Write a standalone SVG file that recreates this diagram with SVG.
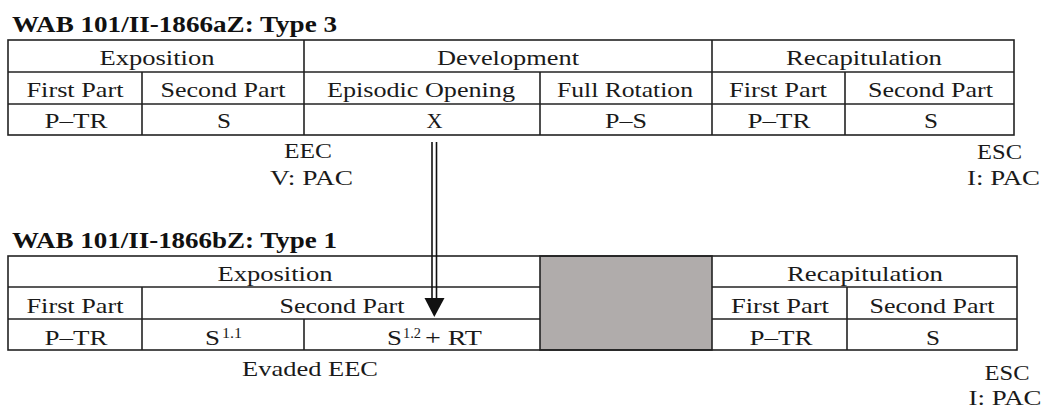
<svg xmlns="http://www.w3.org/2000/svg" width="1043" height="409" viewBox="0 0 1043 409">
<style>
  .t{font-family:"Liberation Serif",Tinos,"Times New Roman",Times,"Nimbus Roman","Noto Serif",serif;font-size:21.5px;fill:#1a1a1a;text-anchor:middle}
  .s{font-family:"Liberation Serif",Tinos,"Times New Roman",Times,"Nimbus Roman","Noto Serif",serif;font-size:14.5px;fill:#1a1a1a}
  .l{font-family:"Liberation Serif",Tinos,"Times New Roman",Times,"Nimbus Roman","Noto Serif",serif;font-size:21.5px;fill:#1a1a1a}
  .h{font-family:"Liberation Serif",Tinos,"Times New Roman",Times,"Nimbus Roman","Noto Serif",serif;font-size:23px;font-weight:bold;fill:#111}
  .b{fill:none;stroke:#222;stroke-width:1.6}
  .ln{stroke:#222;stroke-width:1.6}
  .gray{fill:#b0acab;stroke:#222;stroke-width:1.6}
  .arr{stroke:#111;stroke-width:1.6}
</style>
<rect width="1043" height="409" fill="#fff"/>

<g id="table-a">
  <text class="h" x="12" y="32" textLength="325" lengthAdjust="spacingAndGlyphs">WAB 101/II-1866aZ: Type 3</text>
  <rect class="b" x="8" y="40" width="1006" height="95"/>
  <line class="ln" x1="8" y1="72" x2="1014" y2="72"/>
  <line class="ln" x1="8" y1="104" x2="1014" y2="104"/>
  <line class="ln" x1="304" y1="40" x2="304" y2="135"/>
  <line class="ln" x1="712" y1="40" x2="712" y2="135"/>
  <line class="ln" x1="142" y1="72" x2="142" y2="135"/>
  <line class="ln" x1="540" y1="72" x2="540" y2="135"/>
  <line class="ln" x1="845" y1="72" x2="845" y2="135"/>
  <g id="a-exposition">
    <text class="t" x="157" y="65" textLength="115" lengthAdjust="spacingAndGlyphs">Exposition</text>
    <text class="t" x="75" y="97" textLength="97" lengthAdjust="spacingAndGlyphs">First Part</text>
    <text class="t" x="223" y="97" textLength="125" lengthAdjust="spacingAndGlyphs">Second Part</text>
    <text class="t" x="76" y="128" textLength="63" lengthAdjust="spacingAndGlyphs">P–TR</text>
    <text class="t" x="224" y="128" textLength="14" lengthAdjust="spacingAndGlyphs">S</text>
  </g>
  <g id="a-development">
    <text class="t" x="508" y="65" textLength="142" lengthAdjust="spacingAndGlyphs">Development</text>
    <text class="t" x="421" y="97" textLength="188" lengthAdjust="spacingAndGlyphs">Episodic Opening</text>
    <text class="t" x="625" y="97" textLength="136" lengthAdjust="spacingAndGlyphs">Full Rotation</text>
    <text class="t" x="434.5" y="128" textLength="16" lengthAdjust="spacingAndGlyphs">X</text>
    <text class="t" x="626" y="128" textLength="42" lengthAdjust="spacingAndGlyphs">P–S</text>
  </g>
  <g id="a-recapitulation">
    <text class="t" x="864" y="65" textLength="156" lengthAdjust="spacingAndGlyphs">Recapitulation</text>
    <text class="t" x="778" y="97" textLength="98" lengthAdjust="spacingAndGlyphs">First Part</text>
    <text class="t" x="930.5" y="97" textLength="125" lengthAdjust="spacingAndGlyphs">Second Part</text>
    <text class="t" x="779" y="128" textLength="63" lengthAdjust="spacingAndGlyphs">P–TR</text>
    <text class="t" x="931" y="128" textLength="14" lengthAdjust="spacingAndGlyphs">S</text>
  </g>
</g>

<g id="a-eec">
  <text class="t" x="308" y="158" textLength="48" lengthAdjust="spacingAndGlyphs">EEC</text>
  <text class="t" x="311.5" y="185" textLength="83" lengthAdjust="spacingAndGlyphs">V: PAC</text>
</g>
<g id="a-esc">
  <text class="t" x="999.5" y="159" textLength="45" lengthAdjust="spacingAndGlyphs">ESC</text>
  <text class="t" x="1003.5" y="185" textLength="73" lengthAdjust="spacingAndGlyphs">I: PAC</text>
</g>

<g id="table-b">
  <text class="h" x="12" y="248" textLength="325" lengthAdjust="spacingAndGlyphs">WAB 101/II-1866bZ: Type 1</text>
  <rect class="gray" x="540" y="256" width="172" height="94"/>
  <rect class="b" x="8" y="256" width="1009" height="94"/>
  <line class="ln" x1="8" y1="287" x2="540" y2="287"/>
  <line class="ln" x1="8" y1="319" x2="540" y2="319"/>
  <line class="ln" x1="712" y1="287" x2="1017" y2="287"/>
  <line class="ln" x1="712" y1="319" x2="1017" y2="319"/>
  <line class="ln" x1="142" y1="287" x2="142" y2="350"/>
  <line class="ln" x1="304" y1="319" x2="304" y2="350"/>
  <line class="ln" x1="847" y1="287" x2="847" y2="350"/>
  <g id="b-exposition">
    <text class="t" x="275" y="281" textLength="115" lengthAdjust="spacingAndGlyphs">Exposition</text>
    <text class="t" x="75" y="313" textLength="97" lengthAdjust="spacingAndGlyphs">First Part</text>
    <text class="t" x="342" y="313" textLength="125" lengthAdjust="spacingAndGlyphs">Second Part</text>
    <text class="t" x="76" y="345" textLength="63" lengthAdjust="spacingAndGlyphs">P–TR</text>
    <text class="l" x="205" y="345" textLength="15" lengthAdjust="spacingAndGlyphs">S</text>
    <text class="s" x="222" y="338" textLength="20" lengthAdjust="spacingAndGlyphs">1.1</text>
    <text class="l" x="387" y="345" textLength="15" lengthAdjust="spacingAndGlyphs">S</text>
    <text class="s" x="403" y="338" textLength="18" lengthAdjust="spacingAndGlyphs">1.2</text>
    <text class="l" x="425" y="345" textLength="57" lengthAdjust="spacingAndGlyphs">+ RT</text>
  </g>
  <g id="b-recapitulation">
    <text class="t" x="865" y="281" textLength="156" lengthAdjust="spacingAndGlyphs">Recapitulation</text>
    <text class="t" x="780" y="313" textLength="98" lengthAdjust="spacingAndGlyphs">First Part</text>
    <text class="t" x="932" y="313" textLength="125" lengthAdjust="spacingAndGlyphs">Second Part</text>
    <text class="t" x="781" y="345" textLength="63" lengthAdjust="spacingAndGlyphs">P–TR</text>
    <text class="t" x="933" y="345" textLength="14" lengthAdjust="spacingAndGlyphs">S</text>
  </g>
</g>

<g id="b-evaded">
  <text class="t" x="310" y="376" textLength="136" lengthAdjust="spacingAndGlyphs">Evaded EEC</text>
</g>
<g id="b-esc">
  <text class="t" x="1007" y="380" textLength="45" lengthAdjust="spacingAndGlyphs">ESC</text>
  <text class="t" x="1005" y="405" textLength="73" lengthAdjust="spacingAndGlyphs">I: PAC</text>
</g>

<g id="connectors">
  <line class="arr" x1="432" y1="142" x2="432" y2="299"/>
  <line class="arr" x1="436.5" y1="142" x2="436.5" y2="299"/>
  <polygon points="424.5,298 444.5,298 434.3,317" fill="#111"/>
</g>
</svg>
